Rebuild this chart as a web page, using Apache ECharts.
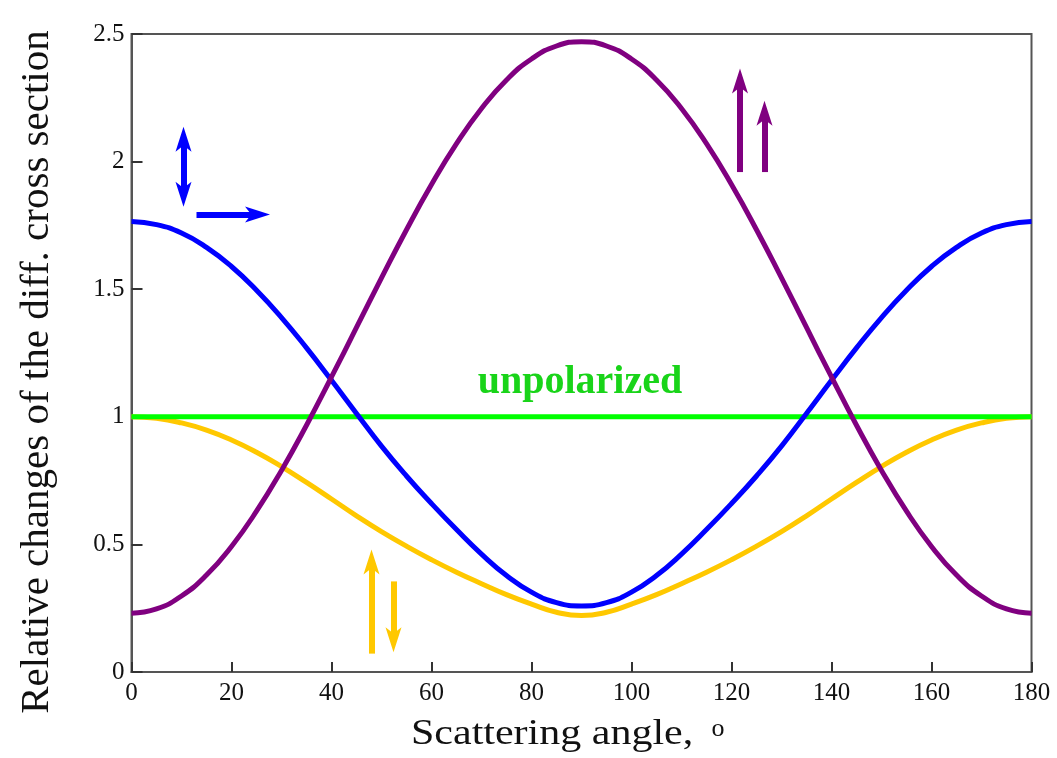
<!DOCTYPE html>
<html>
<head>
<meta charset="utf-8">
<script src="https://cdn.jsdelivr.net/npm/echarts@6/dist/echarts.min.js"></script>
<style>
html,body{margin:0;padding:0;background:#fff;}
#chart{width:1057px;height:758px;}
</style>
</head>
<body>
<div id="chart"></div>
<script>
// scattering angle, degrees
var theta = [0,5,10,15,20,25,30,35,40,45,50,55,60,65,70,75,80,85,90,
	95,100,105,110,115,120,125,130,135,140,145,150,155,160,165,170,175,180];
// perpendicular-in / parallel-out (blue)
var blueVals = [1.765,1.753,1.720,1.664,1.589,1.496,1.389,1.270,1.143,1.013,0.885,0.768,0.660,0.558,0.462,0.378,0.313,0.272,0.259,
	0.272,0.313,0.378,0.462,0.558,0.660,0.768,0.885,1.013,1.143,1.270,1.389,1.496,1.589,1.664,1.720,1.753,1.765];
// parallel spins (purple)
var purpleVals = [0.230,0.247,0.298,0.380,0.492,0.630,0.790,0.967,1.156,1.350,1.544,1.733,1.910,2.070,2.208,2.320,2.402,2.453,2.470,
	2.453,2.402,2.320,2.208,2.070,1.910,1.733,1.544,1.350,1.156,0.967,0.790,0.630,0.492,0.380,0.298,0.247,0.230];
// antiparallel spins (yellow)
var yellowVals = [1.000,0.994,0.976,0.948,0.909,0.861,0.805,0.743,0.678,0.612,0.550,0.493,0.440,0.391,0.346,0.303,0.266,0.234,0.221,
	0.234,0.266,0.303,0.346,0.391,0.440,0.493,0.550,0.612,0.678,0.743,0.805,0.861,0.909,0.948,0.976,0.994,1.000];
// unpolarized reference
var greenX = [0, 180];
var greenVals = [1, 1];
var xTicks = [0,20,40,60,80,100,120,140,160,180];
var yTicks = [0,0.5,1,1.5,2,2.5];

var chart = echarts.init(document.getElementById('chart'));
var serif = '"Liberation Serif","Times New Roman",serif';
var head = [12, 25];
// data units per pixel, used to stop the shaft inside the arrow head
var dxPx = 180 / 900, dyPx = 2.5 / 638;

function pairs(xs, ys){
	var out=[];
	for(var i=0;i<xs.length;i++){ out.push([xs[i], ys[i]]); }
	return out;
}
function pull(x, y, tx, ty, px){
	// move (tx,ty) back towards (x,y) by px pixels
	var ddx=(tx-x)/dxPx, ddy=(ty-y)/dyPx, len=Math.sqrt(ddx*ddx+ddy*ddy);
	return [tx-ddx/len*px*dxPx, ty-ddy/len*px*dyPx];
}
//arrow from tail (x1,y1) to tip (x2,y2); double puts a head on both ends
function arrowItems(x1,y1,x2,y2,double){
	var end = pull(x1,y1,x2,y2,14);
	var start = double ? pull(x2,y2,x1,y1,14) : [x1,y1];
	return [
		[{coord:start, symbol:'none'},{coord:end, symbol:'none'}],
		[{coord:[x1,y1], symbol: double ? 'arrow' : 'none', symbolSize: head},
		 {coord:[x2,y2], symbol:'arrow', symbolSize: head, lineStyle: {width: 0}}]
	];
}
function arrows(color, list){
	var data=[];
	list.forEach(function(a){
		var it = arrowItems(a[0],a[1],a[2],a[3],a[4]);
		data.push(it[0]);
		it[1][0].lineStyle = {width: 0};
		data.push(it[1]);
	});
	return {
		silent: true,
		animation: false,
		symbolSize: head,
		label: {show: false},
		lineStyle: {color: color, width: 6, type: 'solid', opacity: 1},
		emphasis: {disabled: true},
		data: data
	};
}

var option = {
	animation: false,
	backgroundColor: '#fff',
	grid: {
		left: 131.5, right: 25.5, top: 34, bottom: 86,
		show: true, borderColor: '#555', borderWidth: 2
	},
	xAxis: {
		type: 'value', min: xTicks[0], max: xTicks[xTicks.length-1], interval: 20,
		axisLine: {show: true, lineStyle: {color: '#555', width: 2}},
		axisTick: {show: true, inside: true, length: 10, lineStyle: {color: '#333', width: 2}},
		axisLabel: {color: '#111', fontFamily: serif, fontSize: 25, margin: 9},
		splitLine: {show: false}
	},
	yAxis: {
		type: 'value', min: yTicks[0], max: yTicks[yTicks.length-1], interval: 0.5,
		axisLine: {show: true, lineStyle: {color: '#555', width: 2}},
		axisTick: {show: true, inside: true, length: 11, lineStyle: {color: '#333', width: 2}},
		axisLabel: {color: '#111', fontFamily: serif, fontSize: 25, margin: 7},
		splitLine: {show: false}
	},
	series: [{
		type: 'line', data: pairs(theta, yellowVals), smooth: true, showSymbol: false,
		lineStyle: {color: '#ffc800', width: 5}, z: 2,
		markLine: arrows('#ffc800', [
			[48.0, 0.072, 48.0, 0.480, false],
			[52.4, 0.355, 52.4, 0.077, false]
		])
	}, {
		type: 'line', data: pairs(greenX, greenVals), showSymbol: false,
		lineStyle: {color: '#00ff00', width: 5}, z: 3
	}, {
		type: 'line', data: pairs(theta, blueVals), smooth: true, showSymbol: false,
		lineStyle: {color: '#0000ff', width: 5}, z: 4,
		markLine: arrows('#0000ff', [
			[10.4, 1.823, 10.4, 2.137, true],
			[13.0, 1.793, 27.7, 1.793, false]
		])
	}, {
		type: 'line', data: pairs(theta, purpleVals), smooth: true, showSymbol: false,
		lineStyle: {color: '#800080', width: 5}, z: 5,
		markLine: arrows('#800080', [
			[121.7, 1.959, 121.7, 2.365, false],
			[126.6, 1.959, 126.6, 2.238, false]
		])
	}],
	graphic: [{
		type: 'text', x: 580, y: 383,
		style: {text: 'unpolarized', fill: '#19d419', font: 'bold 40px ' + serif, textAlign: 'center', textVerticalAlign: 'middle'}
	}, {
		type: 'text', x: 37, y: 372, rotation: Math.PI / 2,
		style: {text: 'Relative changes of the diff. cross section', fill: '#111', font: '41px ' + serif, textAlign: 'center', textVerticalAlign: 'middle'}
	}, {
		type: 'text', x: 411, y: 735, scaleX: 1.2,
		style: {text: 'Scattering angle,', fill: '#111', font: '35px ' + serif, textAlign: 'left', textVerticalAlign: 'middle'}
	}, {
		type: 'text', x: 718, y: 729,
		style: {text: 'o', fill: '#111', font: '26px ' + serif, textAlign: 'center', textVerticalAlign: 'middle'}
	}]
};
chart.setOption(option);
window.onresize = function(){ chart.resize(); };
</script>
</body>
</html>
